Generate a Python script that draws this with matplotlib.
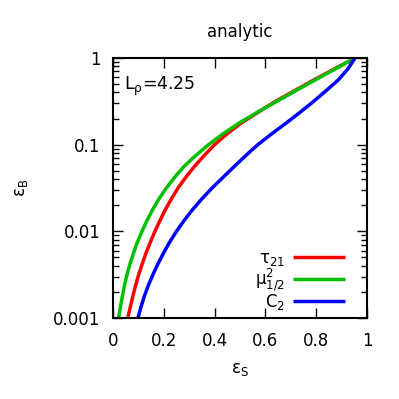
import matplotlib
matplotlib.use("Agg")
import matplotlib.pyplot as plt
from matplotlib.ticker import LogLocator, NullFormatter

# Background efficiency values (log-spaced readings, 10^-3 ... 10^0)
eps_b = [0.001, 0.001334, 0.001778, 0.002371, 0.003162, 0.004217, 0.005623, 0.007499,
         0.01, 0.01334, 0.01778, 0.02371, 0.03162, 0.04217, 0.05623, 0.07499,
         0.1, 0.1334, 0.1778, 0.2371, 0.3162, 0.4217, 0.5623, 0.7499, 1.0]

# Signal efficiency for each curve
mu2 = [0.022, 0.029, 0.037, 0.045, 0.055, 0.067, 0.081, 0.096,
       0.114, 0.134, 0.156, 0.181, 0.210, 0.243, 0.280, 0.326,
       0.376, 0.433, 0.497, 0.569, 0.645, 0.721, 0.798, 0.876, 0.953]
tau21 = [0.058, 0.068, 0.078, 0.089, 0.101, 0.115, 0.130, 0.147,
         0.165, 0.185, 0.206, 0.230, 0.256, 0.287, 0.321, 0.359,
         0.400, 0.449, 0.505, 0.572, 0.640, 0.716, 0.793, 0.872, 0.953]
c2 = [0.098, 0.110, 0.123, 0.139, 0.157, 0.177, 0.199, 0.223,
      0.250, 0.280, 0.313, 0.350, 0.390, 0.434, 0.478, 0.523,
      0.570, 0.625, 0.682, 0.737, 0.790, 0.840, 0.888, 0.925, 0.953]

labels = ['τ$_{21}$', 'μ$^2_{1/2}$', 'C$_2$']
colors = ['#ff0000', '#00c000', '#0000ff']

plt.rcParams['font.family'] = ['DejaVu Sans']
plt.rcParams['mathtext.fontset'] = 'dejavusans'

fig = plt.figure(figsize=(3.99, 3.99), dpi=100)
ax = fig.add_axes([113/399, 1-318/399, 254/399, 260/399])

for ys, lab, col in zip([tau21, mu2, c2], labels, colors):
    ax.plot(ys, eps_b, color=col, lw=2.5, label=lab, solid_capstyle='butt',
            solid_joinstyle='round')

ax.set_yscale('log')
ax.set_xlim(0, 1)
ax.set_ylim(0.001, 1)
ax.set_xticks([0, 0.2, 0.4, 0.6, 0.8, 1])
ax.set_xticklabels(['0', '0.2', '0.4', '0.6', '0.8', '1'])
ax.set_yticks([0.001, 0.01, 0.1, 1])
ax.set_yticklabels(['0.001', '0.01', '0.1', '1'])
ax.yaxis.set_minor_locator(LogLocator(base=10, subs=range(2, 10)))
ax.yaxis.set_minor_formatter(NullFormatter())
ax.tick_params(which='major', direction='in', length=7, width=1, top=True, right=True,
               labelsize=12)
ax.tick_params(axis='x', which='major', pad=10)
ax.tick_params(axis='y', which='major', pad=9)
ax.tick_params(which='minor', direction='in', length=4, width=1, top=True, right=True)
for s in ax.spines.values():
    s.set_linewidth(1.5)

ax.set_title('analytic', fontsize=12, pad=15)
ax.set_xlabel('ε$_\\mathrm{S}$', fontsize=12, labelpad=7)
ax.set_ylabel('ε$_\\mathrm{B}$', fontsize=12, labelpad=17)

ax.text(0.045, 0.89, 'L$_\\mathrm{ρ}$=4.25', transform=ax.transAxes, fontsize=12.5,
        ha='left', va='center')

leg = ax.legend(loc='lower right', markerfirst=False, frameon=False, fontsize=12,
                handlelength=3.1, handletextpad=0.5, labelspacing=-0.1,
                borderaxespad=0.3, bbox_to_anchor=(0.959, -0.02))
for t in leg.get_texts():
    t.set_ha('right')

fig.savefig('out.png', dpi=100)
